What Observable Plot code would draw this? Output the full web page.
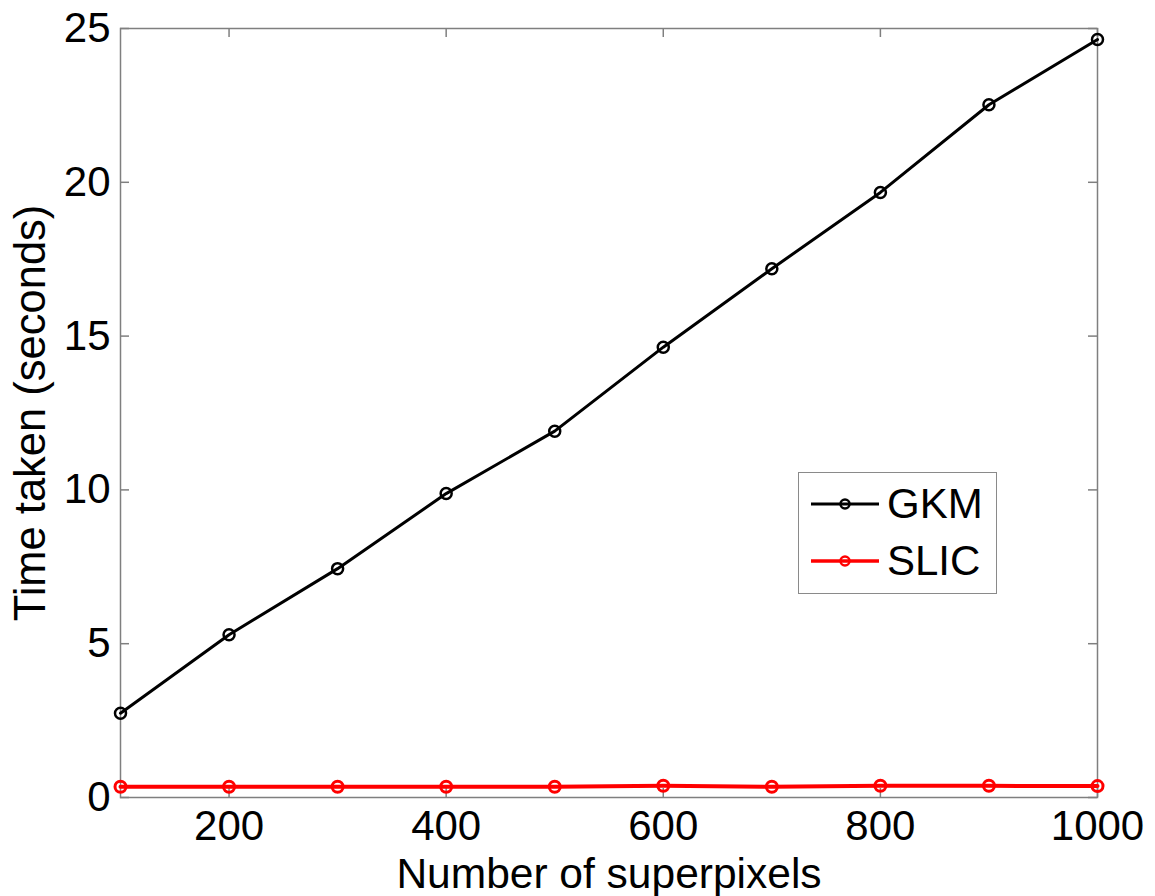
<!DOCTYPE html>
<html><head><meta charset="utf-8">
<script src="https://cdn.jsdelivr.net/npm/d3@7"></script>
<script src="https://cdn.jsdelivr.net/npm/@observablehq/plot@0.6"></script>
<style>
body{margin:0;background:#fff;}
#wrap{position:relative;width:1155px;height:896px;}
#legend{position:absolute;left:798px;top:472px;width:197px;height:120px;border:1.5px solid #8a8a8a;background:#fff;font-family:"Liberation Sans",Arial,sans-serif;font-size:42px;color:#000;}
.row{position:absolute;left:12px;height:40px;display:flex;align-items:center;}
.row span{margin-left:8px;line-height:40px;}
</style></head>
<body><div id="wrap"><div id="legend"></div></div>
<script>
const superpixels = [100, 200, 300, 400, 500, 600, 700, 800, 900, 1000];
const gkmTime = [2.74, 5.29, 7.44, 9.88, 11.91, 14.64, 17.19, 19.67, 22.52, 24.64];
const slicTime = [0.35, 0.35, 0.35, 0.35, 0.35, 0.38, 0.35, 0.38, 0.38, 0.37];
const xTicks = [200, 400, 600, 800, 1000];
const yTicks = [0, 5, 10, 15, 20, 25];
const seriesNames = ["GKM", "SLIC"];
const seriesColors = ["#000000", "#ff0000"];

const rows = superpixels.flatMap((x, i) => [
  {x, y: gkmTime[i], s: "GKM"},
  {x, y: slicTime[i], s: "SLIC"}
]);
const gkm = rows.filter(d => d.s === "GKM");
const slic = rows.filter(d => d.s === "SLIC");

const W = 1155, H = 896, mL = 120, mR = 58, mT = 28, mB = 99;
const ph = H - mT - mB, pw = W - mL - mR, tk = 9;
const axisGray = "#7f7f7f";

const chart = Plot.plot({
  width: W, height: H,
  marginLeft: mL, marginRight: mR, marginTop: mT, marginBottom: mB,
  style: {fontFamily: "'Liberation Sans', Arial, sans-serif", fontSize: "42px", background: "#fff", color: "#000"},
  x: {domain: [100, 1000]},
  y: {domain: [0, 25]},
  color: {domain: seriesNames, range: seriesColors},
  marks: [
    Plot.frame({stroke: axisGray, strokeWidth: 1.5}),
    Plot.tickX(xTicks, {x: d => d, stroke: axisGray, strokeWidth: 1.5, insetTop: ph - tk}),
    Plot.tickX(xTicks, {x: d => d, stroke: axisGray, strokeWidth: 1.5, insetBottom: ph - tk}),
    Plot.tickY(yTicks, {y: d => d, stroke: axisGray, strokeWidth: 1.5, insetRight: pw - tk}),
    Plot.tickY(yTicks, {y: d => d, stroke: axisGray, strokeWidth: 1.5, insetLeft: pw - tk}),
    Plot.axisX(xTicks, {tickSize: 0, tickPadding: 13, tickFormat: d => String(d), label: null}),
    Plot.axisY(yTicks, {tickSize: 0, tickPadding: 10, tickFormat: d => String(d), label: null}),
    Plot.axisX([], {tickSize: 0, label: "Number of superpixels", labelAnchor: "center", labelOffset: 90, labelArrow: "none", fontSize: 42.5}),
    Plot.axisY([], {tickSize: 0, label: "Time taken (seconds)", labelAnchor: "center", labelOffset: 106, labelArrow: "none", fontSize: 43.5}),
    Plot.line(gkm, {x: "x", y: "y", stroke: "s", strokeWidth: 3}),
    Plot.line(slic, {x: "x", y: "y", stroke: "s", strokeWidth: 4}),
    Plot.dot(gkm, {x: "x", y: "y", stroke: "s", r: 5.5, strokeWidth: 2.5, fill: "none"}),
    Plot.dot(slic, {x: "x", y: "y", stroke: "s", r: 5.5, strokeWidth: 3, fill: "none"})
  ]
});
document.getElementById("wrap").prepend(chart);

const legend = document.getElementById("legend");
seriesNames.forEach((name, i) => {
  const row = document.createElement("div");
  row.className = "row";
  row.style.top = (i === 0 ? 11 : 68) + "px";
  const sw = i === 0 ? 3 : 3.5;
  row.innerHTML = `<svg width="68" height="20"><line x1="0" x2="68" y1="10" y2="10" stroke="${seriesColors[i]}" stroke-width="${sw}"/><circle cx="34" cy="10" r="4.5" fill="none" stroke="${seriesColors[i]}" stroke-width="2.5"/></svg><span>${name}</span>`;
  legend.appendChild(row);
});
</script>
</body></html>
